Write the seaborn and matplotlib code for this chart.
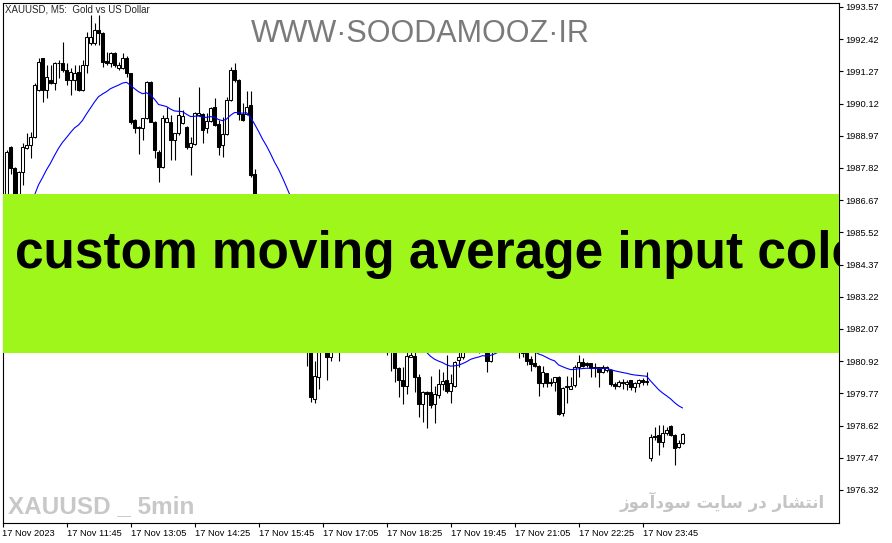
import matplotlib
matplotlib.use('Agg')
import matplotlib.pyplot as plt
import matplotlib.transforms as mtransforms
import numpy as np
import pandas as pd
import seaborn as sns

sns.set_style('white')
plt.rcParams['font.family'] = ['Liberation Sans', 'DejaVu Sans']

# XAUUSD M5 bars, 17 Nov 2023, left to right (values under the banner are estimates)
opens = [
    1986.30, 1988.58, 1987.81, 1986.60, 1987.69, 1988.52, 1988.64, 1988.94, 1990.60, 1991.74,
    1990.60, 1990.96, 1990.84, 1991.56, 1991.58, 1991.32, 1990.96, 1990.96, 1991.26, 1990.60,
    1991.50, 1992.27, 1992.27, 1992.75, 1992.63, 1991.64, 1991.56, 1991.92, 1991.38, 1991.38,
    1991.74, 1991.20, 1989.53, 1989.28, 1989.24, 1989.59, 1990.90, 1989.47, 1988.40, 1987.85,
    1989.47, 1989.47, 1988.82, 1989.06, 1989.42, 1989.27, 1988.58, 1988.68, 1989.71, 1989.74,
    1989.24, 1989.51, 1989.99, 1989.40, 1988.64, 1989.03, 1990.25, 1991.32, 1990.96, 1989.75,
    1989.75, 1990.07, 1987.60, 1986.60, 1986.00, 1985.50, 1985.70, 1985.00, 1984.40, 1984.70,
    1983.80, 1983.20, 1982.70, 1983.00, 1982.10, 1981.60, 1981.30, 1979.56, 1980.35, 1981.50,
    1981.80, 1981.06, 1981.35, 1981.70, 1981.50, 1981.90, 1982.20, 1981.95, 1982.15, 1981.90,
    1981.70, 1981.85, 1981.55, 1981.75, 1981.45, 1981.65, 1981.50, 1981.50, 1980.67, 1980.25,
    1980.05, 1981.08, 1981.11, 1980.35, 1979.38, 1979.81, 1979.83, 1979.38, 1979.71, 1980.11,
    1980.25, 1979.87, 1980.03, 1980.96, 1981.06, 1981.50, 1981.70, 1982.00, 1981.60, 1981.50,
    1981.50, 1980.94, 1981.40, 1981.80, 1982.10, 1982.00, 1981.80, 1981.60, 1981.50, 1981.20,
    1981.40, 1981.00, 1980.85, 1980.75, 1980.15, 1980.49, 1980.17, 1980.19, 1980.37, 1979.06,
    1980.05, 1979.93, 1980.07, 1980.72, 1980.88, 1980.84, 1980.85, 1980.70, 1980.70, 1980.55,
    1980.61, 1980.61, 1980.10, 1980.05, 1980.19, 1980.11, 1980.25, 1980.01, 1980.13, 1980.24,
    1980.19, 1977.45, 1978.26, 1978.28, 1978.04, 1978.34, 1978.61, 1978.28, 1977.87, 1978.01,
]
highs = [
    1988.46, 1988.60, 1987.85, 1987.70, 1988.70, 1989.06, 1989.12, 1990.84, 1991.74, 1991.76,
    1991.50, 1991.50, 1991.62, 1991.68, 1992.33, 1991.56, 1991.38, 1991.50, 1991.50, 1991.68,
    1992.69, 1993.28, 1992.99, 1993.28, 1992.66, 1991.97, 1991.97, 1991.95, 1991.62, 1991.92,
    1991.80, 1991.22, 1989.55, 1989.30, 1989.60, 1990.92, 1990.92, 1989.50, 1988.45, 1989.71,
    1990.01, 1989.71, 1989.08, 1990.37, 1989.89, 1989.30, 1988.94, 1989.83, 1990.72, 1989.79,
    1989.77, 1990.01, 1990.31, 1989.53, 1989.65, 1990.37, 1991.44, 1991.58, 1990.98, 1990.13,
    1990.55, 1990.55, 1987.77, 1986.80, 1986.40, 1985.90, 1986.00, 1985.30, 1984.90, 1984.80,
    1984.10, 1983.60, 1983.30, 1983.10, 1982.40, 1981.90, 1981.50, 1980.93, 1981.70, 1982.00,
    1982.00, 1981.40, 1981.90, 1982.00, 1982.10, 1982.40, 1982.60, 1982.40, 1982.50, 1982.20,
    1982.10, 1982.10, 1981.90, 1982.00, 1981.80, 1981.90, 1981.80, 1981.70, 1980.72, 1980.72,
    1981.30, 1981.40, 1981.30, 1980.46, 1979.87, 1979.87, 1980.39, 1980.03, 1980.63, 1980.52,
    1981.14, 1980.45, 1980.94, 1981.30, 1981.70, 1981.90, 1982.20, 1982.30, 1981.90, 1981.90,
    1981.70, 1981.60, 1981.90, 1982.30, 1982.50, 1982.40, 1982.10, 1981.90, 1981.80, 1981.60,
    1981.60, 1981.10, 1981.30, 1980.80, 1980.76, 1980.50, 1980.31, 1980.37, 1980.40, 1980.01,
    1980.39, 1980.37, 1980.79, 1981.14, 1981.02, 1980.90, 1980.86, 1980.85, 1980.72, 1980.79,
    1980.75, 1980.63, 1980.19, 1980.23, 1980.29, 1980.25, 1980.26, 1980.19, 1980.28, 1980.31,
    1980.52, 1978.32, 1978.56, 1978.64, 1978.64, 1978.56, 1978.64, 1978.32, 1978.11, 1978.35,
]
lows = [
    1986.00, 1987.60, 1986.20, 1986.30, 1987.21, 1988.50, 1988.17, 1988.90, 1990.55, 1990.19,
    1990.31, 1990.80, 1990.60, 1991.02, 1991.26, 1990.78, 1990.43, 1990.60, 1990.55, 1990.55,
    1991.20, 1992.20, 1992.21, 1992.21, 1991.44, 1991.50, 1991.44, 1991.44, 1991.32, 1991.35,
    1991.08, 1989.40, 1989.06, 1988.32, 1988.82, 1989.55, 1989.45, 1988.19, 1987.33, 1987.80,
    1989.45, 1988.10, 1988.10, 1989.00, 1989.40, 1988.50, 1987.57, 1988.65, 1989.68, 1988.70,
    1989.06, 1989.45, 1989.30, 1988.28, 1988.22, 1988.98, 1990.20, 1990.90, 1989.53, 1989.50,
    1989.70, 1987.50, 1986.30, 1985.90, 1985.30, 1985.00, 1984.80, 1984.20, 1984.00, 1983.60,
    1983.00, 1982.50, 1982.30, 1981.90, 1981.40, 1980.76, 1979.47, 1979.42, 1979.92, 1981.30,
    1980.23, 1980.94, 1981.30, 1980.94, 1981.40, 1981.70, 1981.80, 1981.70, 1981.80, 1981.50,
    1981.40, 1981.35, 1981.35, 1981.30, 1981.30, 1981.14, 1980.58, 1980.17, 1979.63, 1979.38,
    1979.74, 1981.06, 1979.83, 1978.92, 1978.76, 1978.52, 1979.24, 1978.70, 1979.60, 1979.89,
    1979.77, 1979.44, 1980.00, 1980.70, 1981.00, 1981.30, 1981.50, 1981.40, 1981.22, 1981.30,
    1980.52, 1980.90, 1981.30, 1981.60, 1981.80, 1981.60, 1981.40, 1981.30, 1981.02, 1981.06,
    1980.79, 1980.58, 1980.70, 1979.69, 1980.01, 1980.01, 1980.03, 1979.87, 1979.00, 1978.97,
    1979.42, 1979.92, 1980.00, 1980.37, 1980.70, 1980.72, 1980.35, 1980.37, 1980.01, 1980.50,
    1980.55, 1980.03, 1979.92, 1980.01, 1979.92, 1979.89, 1979.89, 1979.81, 1980.01, 1980.07,
    1980.07, 1977.37, 1978.11, 1977.57, 1977.87, 1978.30, 1978.25, 1977.21, 1977.81, 1977.95,
]
closes = [
    1988.40, 1987.81, 1986.50, 1987.69, 1988.58, 1988.64, 1988.94, 1990.78, 1991.62, 1990.60,
    1991.08, 1990.84, 1991.56, 1991.58, 1991.30, 1990.96, 1991.26, 1991.20, 1990.60, 1991.50,
    1992.51, 1992.51, 1992.75, 1992.63, 1991.62, 1991.56, 1991.92, 1991.50, 1991.50, 1991.74,
    1991.20, 1989.47, 1989.24, 1989.24, 1989.59, 1990.90, 1989.47, 1988.46, 1987.85, 1989.59,
    1989.59, 1988.82, 1989.06, 1989.71, 1989.68, 1988.58, 1988.70, 1989.79, 1989.79, 1989.18,
    1989.51, 1989.95, 1989.36, 1988.58, 1989.03, 1990.25, 1991.32, 1990.96, 1989.75, 1989.53,
    1990.01, 1987.57, 1986.60, 1986.00, 1985.50, 1985.70, 1985.00, 1984.40, 1984.70, 1983.80,
    1983.20, 1982.70, 1983.00, 1982.10, 1981.60, 1981.30, 1979.63, 1980.39, 1981.50, 1981.80,
    1981.06, 1981.35, 1981.70, 1981.50, 1981.90, 1982.20, 1981.95, 1982.15, 1981.90, 1981.70,
    1981.85, 1981.55, 1981.75, 1981.45, 1981.65, 1981.50, 1981.40, 1980.67, 1980.23, 1980.05,
    1981.11, 1981.14, 1980.35, 1979.38, 1979.81, 1979.74, 1979.36, 1979.75, 1980.11, 1980.21,
    1979.87, 1980.15, 1980.90, 1981.06, 1981.50, 1981.70, 1982.00, 1981.60, 1981.50, 1981.70,
    1980.94, 1981.40, 1981.80, 1982.10, 1982.00, 1981.80, 1981.60, 1981.50, 1981.40, 1981.40,
    1980.94, 1980.82, 1980.76, 1980.15, 1980.52, 1980.15, 1980.13, 1980.35, 1979.03, 1979.95,
    1979.99, 1980.05, 1980.72, 1980.88, 1980.76, 1980.80, 1980.67, 1980.67, 1980.52, 1980.72,
    1980.70, 1980.10, 1980.05, 1980.17, 1980.15, 1980.17, 1980.01, 1980.13, 1980.23, 1980.19,
    1980.21, 1978.22, 1978.20, 1978.04, 1978.34, 1978.46, 1978.28, 1977.81, 1977.99, 1978.31,
]

# smoothed MA (period 13); seed = MA value carried in from bars left of the window
ma_period = 13
ma_seed = 1985.3

ytick_vals = [1993.57, 1992.42, 1991.27, 1990.12, 1988.97, 1987.82, 1986.67, 1985.52,
              1984.37, 1983.22, 1982.07, 1980.92, 1979.77, 1978.62, 1977.47, 1976.32]
xtick_bars = [0, 16, 32, 48, 64, 80, 96, 112, 128, 144, 160]
xtick_labels = ['17 Nov 2023', '17 Nov 11:45', '17 Nov 13:05', '17 Nov 14:25', '17 Nov 15:45',
                '17 Nov 17:05', '17 Nov 18:25', '17 Nov 19:45', '17 Nov 21:05', '17 Nov 22:25',
                '17 Nov 23:45']

banner_text = 'custom moving average input color'
watermark = 'WWW\u00b7SOODAMOOZ\u00b7IR'
corner_label = 'XAUUSD _ 5min'
# "انتشار در سایت سودآموز" in presentation forms, visual order (mpl has no bidi/shaping)
persian_label = ('\ufeaf\ufeee\ufee3\ufe81\ufea9\ufeee\ufeb3 '
                 '\ufe96\ufef3\ufe8e\ufeb3 '
                 '\ufead\ufea9 '
                 '\ufead\ufe8e\ufeb8\ufe98\ufee7\ufe8d')

df = pd.DataFrame({'open': opens, 'high': highs, 'low': lows, 'close': closes})
df['bar'] = np.arange(1, len(df) + 1)
df['up'] = df['close'] >= df['open']
ma = pd.Series([ma_seed] + closes).ewm(alpha=1 / ma_period, adjust=False).mean()
df['ma'] = ma.iloc[1:].values

W, H = 892, 543
fig = plt.figure(figsize=(W / 100, H / 100), dpi=100)
ax = fig.add_axes([2.5 / W, 20 / H, 836.5 / W, 520 / H])

# candles
ax.vlines(df['bar'], df['low'], df['high'], color='black', lw=0.8, zorder=2)
body_lo = df[['open', 'close']].min(axis=1)
body_h = (df['close'] - df['open']).abs()
ax.bar(df['bar'], body_h, bottom=body_lo, width=0.55,
       color=np.where(df['up'], 'white', 'black'), edgecolor='black', lw=0.75, zorder=3)

sns.lineplot(data=df, x='bar', y='ma', color='#0000ff', lw=0.8, ax=ax, zorder=4)

ax.set_xlim(0, 209.1)
ax.set_ylim(1975.14, 1993.71)
ax.set_xlabel('')
ax.set_ylabel('')

ax.yaxis.tick_right()
ax.set_yticks(ytick_vals)
ax.set_yticklabels([f'{v:.2f}' for v in ytick_vals])
ax.set_xticks(xtick_bars)
ax.set_xticklabels(xtick_labels, ha='left')
ax.tick_params(axis='both', direction='out', length=3, width=0.8, labelsize=6.7,
               colors='black', bottom=True, right=True, left=False)
ax.tick_params(axis='y', pad=1.5)
ax.tick_params(axis='x', pad=1.5)
for s in ax.spines.values():
    s.set_color('black')
    s.set_linewidth(0.8)

# green banner across the plot
ax.axhspan(1981.21, 1986.89, color='#9ef61a', lw=0, zorder=5)
trans = mtransforms.blended_transform_factory(ax.transAxes, ax.transData)
ax.text(0.0149, 1984.25, banner_text, transform=trans, fontsize=37, fontweight='bold',
        color='black', va='baseline', ha='left', clip_on=True, zorder=6)

fig.text(5 / W, 1 - 4 / H, 'XAUUSD, M5:  Gold vs US Dollar', fontsize=7, va='top', ha='left')
fig.text(420 / W, 1 - 34 / H, watermark, fontsize=22, color='#7a7a7a', ha='center', va='center')
fig.text(8 / W, 1 - 513 / H, corner_label, fontsize=17.5, fontweight='bold', color='#c8c8c8',
         ha='left', va='baseline')
fig.text(825 / W, 1 - 508 / H, persian_label, fontsize=12, fontweight='bold', color='#c4c4c4',
         ha='right', va='baseline', family=['DejaVu Sans'])

fig.savefig('out.png', dpi=100)
